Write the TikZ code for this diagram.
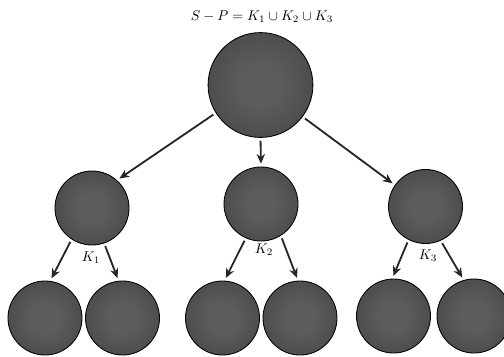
\documentclass[tikz,border=0pt]{standalone}
\usetikzlibrary{arrows.meta}
\colorlet{ballin}{black!64}
\colorlet{ballmid}{black!74}
\colorlet{ballout}{black!88}
\pgfdeclareradialshading{ballshade}{\pgfpoint{0bp}{0bp}}{color(0bp)=(ballin); color(10bp)=(ballin); color(36bp)=(ballmid); color(50bp)=(ballout); color(100bp)=(ballout)}
\begin{document}
\begin{tikzpicture}[x=0.025cm,y=-0.025cm,>={Stealth[length=7pt,width=6pt]},
  ball/.style={circle,draw=black,line width=0.6pt,inner sep=0pt,shading=ballshade,minimum size=1.85cm},
  arr/.style={->,line width=1.3pt,black!85,shorten <=2pt,shorten >=2pt}]
  \useasboundingbox (0,0) rectangle (504,356);
  \node (title) at (262,17) {$S-P=K_1\cup K_2\cup K_3$};
  % the whole set and its three parts
  \node[ball,minimum size=2.62cm] (top) at (260.5,85) {};
  \node[ball] (k1) at (92,208) {};
  \node[ball] (k2) at (261,204) {};
  \node[ball] (k3) at (425.5,206.5) {};
  \node (lk1) at (91,258) {$K_1$};
  \node (lk2) at (264,250) {$K_2$};
  \node (lk3) at (428,256) {$K_3$};
  % next level
  \node[ball] (c11) at (45,318) {};
  \node[ball] (c12) at (122.5,318) {};
  \node[ball] (c21) at (222.5,318) {};
  \node[ball] (c22) at (300,318) {};
  \node[ball] (c31) at (393.5,316) {};
  \node[ball] (c32) at (474,316) {};
  \draw[arr] (top.212) -- (k1.48);
  \draw[arr] (top.south) -- (k2.north);
  \draw[arr] (top.323) -- (k3.145);
  \draw[arr] (k1.237) -- (c11.82);
  \draw[arr] (k1.289) -- (c12.96);
  \draw[arr] (k2.246) -- (c21.87);
  \draw[arr] (k2.302) -- (c22.93);
  \draw[arr] (k3.243) -- (c31.92);
  \draw[arr] (k3.294) -- (c32.106);
\end{tikzpicture}
\end{document}
